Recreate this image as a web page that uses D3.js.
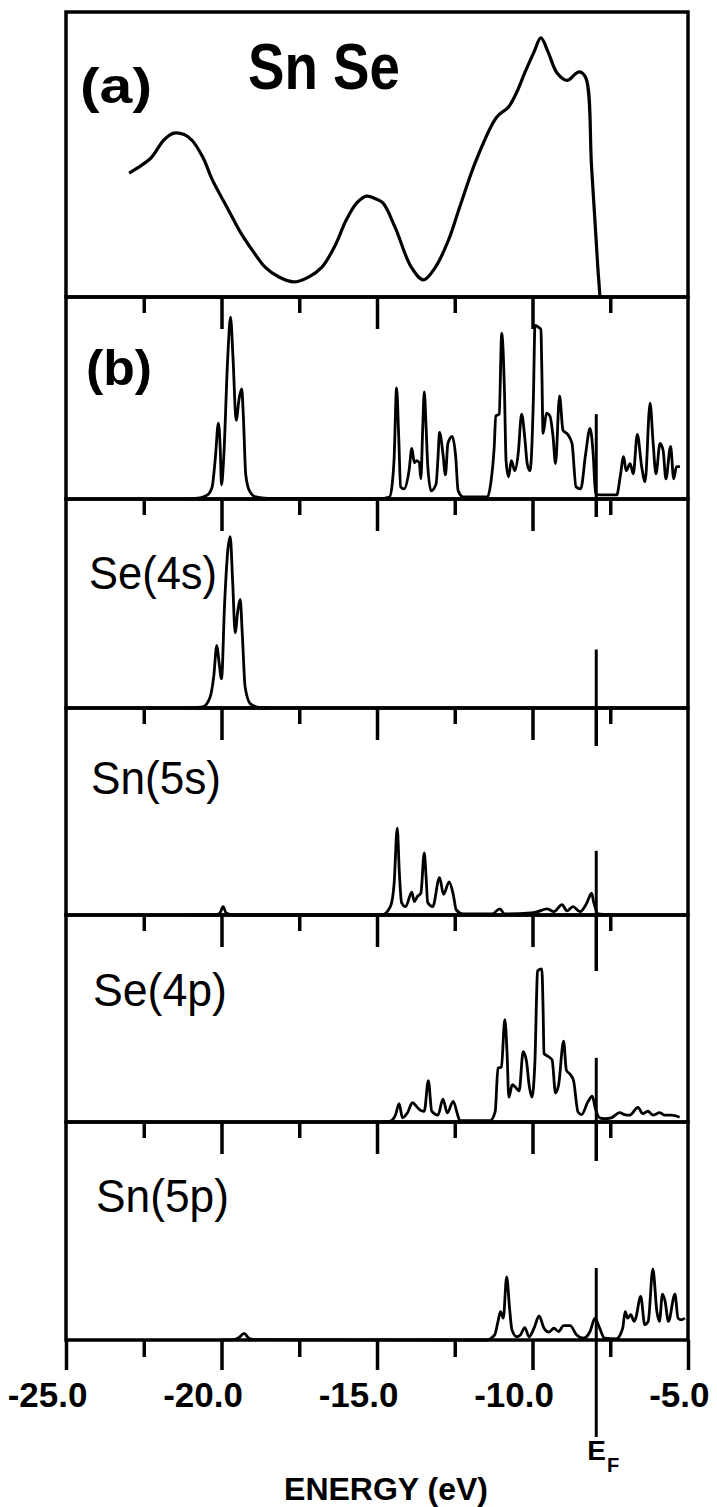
<!DOCTYPE html>
<html><head><meta charset="utf-8">
<script src="https://cdn.jsdelivr.net/npm/d3@7"></script>
<style>body{margin:0;background:#fff}svg{display:block}</style>
</head><body>
<script>
// ---------------- DATA ----------------
const panelNames = ["(a)", "(b)", "Se(4s)", "Sn(5s)", "Se(4p)", "Sn(5p)"];
const chartTitle = "Sn Se";
const xAxisTitle = "ENERGY (eV)";
const fermiLabel = "E", fermiSub = "F";
const fermiEnergy = -7.95;
const majorTicks = [-25, -20, -15, -10, -5];
const minorTicks = [-22.5, -17.5, -12.5, -7.5];
const innerMajorTicks = [-20, -15, -10];
const tickLabels = ["-25.0", "-20.0", "-15.0", "-10.0", "-5.0"];

// (a) measured spectrum: [energy eV, relative intensity]
const xpsSpectrum = [[-22.97,0.435],[-22.6,0.46],[-22.25,0.49],[-21.86,0.55],[-21.53,0.575],[-21.2,0.57],[-20.95,0.55],[-20.6,0.49],[-20.29,0.41],[-19.8,0.31],[-19.38,0.225],[-18.95,0.155],[-18.6,0.105],[-18.15,0.07],[-17.68,0.053],[-17.2,0.07],[-16.77,0.105],[-16.35,0.18],[-15.99,0.27],[-15.65,0.33],[-15.34,0.354],[-15.05,0.345],[-14.81,0.33],[-14.42,0.245],[-13.9,0.105],[-13.51,0.06],[-13.12,0.105],[-12.7,0.2],[-12.34,0.316],[-11.81,0.48],[-11.16,0.63],[-10.77,0.667],[-10.5,0.72],[-10.25,0.786],[-9.95,0.86],[-9.73,0.909],[-9.5,0.86],[-9.21,0.786],[-8.88,0.76],[-8.65,0.78],[-8.49,0.79],[-8.29,0.77],[-8.1,0.456],[-7.9,0.105],[-7.83,0]];

// (b) total DOS
const dosTotal = [[-21.0,0],[-20.7,0.005],[-20.45,0.02],[-20.3,0.06],[-20.2,0.2],[-20.1,0.375],[-20.04,0.25],[-20.0,0.07],[-19.93,0.2],[-19.8,0.7],[-19.71,0.9],[-19.63,0.7],[-19.53,0.39],[-19.43,0.5],[-19.35,0.545],[-19.3,0.42],[-19.22,0.12],[-19.1,0.04],[-18.9,0.01],[-18.5,0.003],[-15.0,0],[-14.6,0.01],[-14.51,0.075],[-14.45,0.2],[-14.37,0.55],[-14.3,0.3],[-14.24,0.06],[-14.13,0.05],[-13.97,0.14],[-13.88,0.25],[-13.8,0.18],[-13.73,0.19],[-13.64,0.18],[-13.59,0.1],[-13.53,0.35],[-13.48,0.53],[-13.42,0.35],[-13.37,0.17],[-13.26,0.04],[-13.1,0.075],[-13.04,0.2],[-12.99,0.33],[-12.88,0.225],[-12.8,0.12],[-12.72,0.275],[-12.58,0.31],[-12.47,0.21],[-12.39,0.04],[-12.22,0.01],[-11.45,0.01],[-11.34,0.08],[-11.23,0.26],[-11.18,0.41],[-11.07,0.42],[-10.99,0.82],[-10.9,0.525],[-10.85,0.19],[-10.77,0.11],[-10.68,0.19],[-10.57,0.14],[-10.46,0.225],[-10.35,0.42],[-10.24,0.29],[-10.17,0.175],[-10.08,0.14],[-9.97,0.51],[-9.92,0.86],[-9.8,0.85],[-9.73,0.84],[-9.7,0.64],[-9.66,0.325],[-9.55,0.425],[-9.44,0.41],[-9.34,0.31],[-9.26,0.175],[-9.13,0.51],[-9.02,0.34],[-8.87,0.32],[-8.73,0.275],[-8.6,0.06],[-8.45,0.05],[-8.29,0.225],[-8.15,0.35],[-8.05,0.225],[-7.97,0.025],[-7.82,0.02],[-7.29,0.02],[-7.18,0.11],[-7.07,0.21],[-6.99,0.14],[-6.86,0.175],[-6.76,0.125],[-6.63,0.32],[-6.49,0.16],[-6.38,0.085],[-6.22,0.475],[-6.12,0.275],[-6.03,0.125],[-5.9,0.275],[-5.8,0.24],[-5.71,0.1],[-5.56,0.26],[-5.46,0.1],[-5.37,0.16],[-5.26,0.16]];

// partial DOS
const dosSe4s = [[-21.0,0],[-20.6,0.005],[-20.37,0.05],[-20.25,0.15],[-20.15,0.3],[-20.08,0.22],[-20.0,0.14],[-19.9,0.5],[-19.8,0.75],[-19.72,0.82],[-19.64,0.6],[-19.56,0.36],[-19.48,0.46],[-19.4,0.52],[-19.33,0.35],[-19.24,0.1],[-19.07,0.02],[-18.8,0.003],[-18.5,0]];

const dosSn5s = [[-21.0,0],[-20.2,0],[-20.05,0.01],[-19.95,0.04],[-19.85,0.01],[-19.6,0],[-14.84,0],[-14.57,0.04],[-14.45,0.15],[-14.35,0.42],[-14.28,0.2],[-14.21,0.06],[-14.08,0.04],[-13.88,0.11],[-13.8,0.065],[-13.7,0.09],[-13.59,0.105],[-13.48,0.3],[-13.42,0.18],[-13.37,0.06],[-13.21,0.04],[-12.99,0.18],[-12.86,0.1],[-12.68,0.16],[-12.55,0.1],[-12.45,0.024],[-12.23,0.005],[-11.3,0.005],[-11.05,0.03],[-10.9,0.005],[-10.05,0.01],[-9.84,0.016],[-9.53,0.03],[-9.31,0.016],[-9.05,0.05],[-8.89,0.02],[-8.7,0.04],[-8.47,0.016],[-8.26,0.056],[-8.1,0.105],[-8.03,0.06],[-7.89,0.005],[-7.5,0]];

const dosSe4p = [[-14.8,0],[-14.57,0.004],[-14.4,0.036],[-14.29,0.089],[-14.18,0.02],[-14.02,0.045],[-13.86,0.093],[-13.7,0.07],[-13.59,0.056],[-13.48,0.052],[-13.35,0.2],[-13.24,0.052],[-13.04,0.033],[-12.88,0.11],[-12.74,0.044],[-12.55,0.1],[-12.41,0.036],[-12.34,0.007],[-11.36,0.007],[-11.2,0.05],[-11.11,0.26],[-11.0,0.265],[-10.89,0.495],[-10.82,0.34],[-10.76,0.12],[-10.65,0.18],[-10.54,0.167],[-10.43,0.15],[-10.3,0.34],[-10.19,0.29],[-10.11,0.18],[-10.02,0.12],[-9.92,0.3],[-9.87,0.6],[-9.84,0.73],[-9.7,0.74],[-9.66,0.55],[-9.63,0.33],[-9.53,0.32],[-9.37,0.3],[-9.26,0.14],[-9.16,0.18],[-9.0,0.39],[-8.91,0.25],[-8.79,0.23],[-8.68,0.2],[-8.54,0.05],[-8.42,0.036],[-8.21,0.1],[-8.08,0.125],[-7.98,0.066],[-7.84,0.02],[-7.68,0.016],[-7.47,0.02],[-7.2,0.045],[-7.04,0.036],[-6.88,0.033],[-6.61,0.07],[-6.45,0.04],[-6.29,0.052],[-6.13,0.033],[-5.91,0.045],[-5.75,0.033],[-5.54,0.033],[-5.27,0.023]];

const dosSn5p = [[-20.0,0],[-19.6,0.002],[-19.45,0.01],[-19.27,0.03],[-19.12,0.008],[-18.9,0.002],[-11.49,0],[-11.22,0.023],[-11.11,0.085],[-11.03,0.13],[-10.94,0.1],[-10.83,0.29],[-10.74,0.15],[-10.66,0.046],[-10.5,0.015],[-10.39,0.023],[-10.25,0.057],[-10.11,0.015],[-9.95,0.054],[-9.79,0.11],[-9.63,0.054],[-9.47,0.036],[-9.31,0.054],[-9.16,0.039],[-9.0,0.066],[-8.79,0.066],[-8.58,0.023],[-8.36,0.008],[-8.15,0.039],[-7.99,0.1],[-7.84,0.054],[-7.68,0.008],[-7.31,0.005],[-7.1,0.054],[-7.02,0.13],[-6.94,0.1],[-6.84,0.116],[-6.73,0.085],[-6.68,0.1],[-6.52,0.2],[-6.39,0.07],[-6.28,0.085],[-6.13,0.325],[-6.0,0.13],[-5.92,0.085],[-5.82,0.21],[-5.74,0.18],[-5.63,0.085],[-5.42,0.21],[-5.32,0.1],[-5.21,0.093],[-5.1,0.1]];

const panelSeries = [xpsSpectrum, dosTotal, dosSe4s, dosSn5s, dosSe4p, dosSn5p];
// height (fraction of panel) of the Fermi-level marker rising from each panel's base
const fermiMarkFraction = [0, 0.42, 0.28, 0.31, 0.31, 0.33];

// ---------------- LAYOUT ----------------
const W = 717, H = 1507;
const panelEdges = [12, 297, 499, 708, 915, 1122, 1340];
const fermiTopTickLen = [0, 0, 18, 38, 56, 39];
const font = "'Liberation Sans', Arial, Helvetica, sans-serif";

const svg = d3.select("body").append("svg").attr("width", W).attr("height", H);
const x = d3.scaleLinear().domain([-25, -5]).range([66, 688]);

const line = (y, curve) => d3.line().x(d => x(d[0])).y(d => y(d[1])).curve(curve);

panelSeries.forEach((series, i) => {
  const top = panelEdges[i], bot = panelEdges[i + 1];
  const y = d3.scaleLinear().domain([0, 1]).range([bot, top]);
  const g = svg.append("g");

  if (i > 0) {
    g.append("g").attr("transform", `translate(0,${top})`)
      .call(d3.axisBottom(x).tickValues(innerMajorTicks).tickSize(32).tickSizeOuter(0).tickFormat(""))
      .call(a => a.select(".domain").remove())
      .selectAll("line").attr("stroke", "#000").attr("stroke-width", 3.5);
    g.append("g").attr("transform", `translate(0,${top})`)
      .call(d3.axisBottom(x).tickValues(minorTicks).tickSize(16).tickSizeOuter(0).tickFormat(""))
      .call(a => a.select(".domain").remove())
      .selectAll("line").attr("stroke", "#000").attr("stroke-width", 3.5);
    if (fermiTopTickLen[i] > 0) {
      g.append("line").attr("x1", x(fermiEnergy)).attr("x2", x(fermiEnergy))
        .attr("y1", top).attr("y2", top + fermiTopTickLen[i])
        .attr("stroke", "#000").attr("stroke-width", 3.5);
    }
    g.append("line").attr("x1", x(fermiEnergy)).attr("x2", x(fermiEnergy))
      .attr("y1", bot).attr("y2", y(fermiMarkFraction[i]))
      .attr("stroke", "#000").attr("stroke-width", 3);
  }

  g.append("path").datum(series)
    .attr("d", line(y, i === 0 ? d3.curveCatmullRom.alpha(0.5) : d3.curveMonotoneX))
    .attr("fill", "none").attr("stroke", "#000")
    .attr("stroke-width", i === 0 ? 3.2 : 2.8).attr("stroke-linejoin", "round");

  g.append("rect").attr("x", x(-25)).attr("y", top)
    .attr("width", x(-5) - x(-25)).attr("height", bot - top)
    .attr("fill", "none").attr("stroke", "#000").attr("stroke-width", 3.5);
});

// panel labels
const labelSpec = [
  {x: 80, y: 103, size: 50, w: 72, bold: true},
  {x: 86, y: 385, size: 50, w: 66, bold: true},
  {x: 89, y: 589, size: 46, w: 128, bold: false},
  {x: 91, y: 794, size: 46, w: 130, bold: false},
  {x: 93, y: 1006, size: 46, w: 134, bold: false},
  {x: 96, y: 1212, size: 46, w: 133, bold: false}
];
panelNames.forEach((name, i) => {
  const s = labelSpec[i];
  svg.append("text").attr("x", s.x).attr("y", s.y).text(name)
    .attr("font-family", font).attr("font-size", s.size)
    .attr("font-weight", s.bold ? "bold" : "normal")
    .attr("textLength", s.w).attr("lengthAdjust", "spacingAndGlyphs");
});
svg.append("text").attr("x", 248).attr("y", 89).text(chartTitle)
  .attr("font-family", font).attr("font-size", 64).attr("font-weight", "bold")
  .attr("textLength", 152).attr("lengthAdjust", "spacingAndGlyphs");

// bottom axis
const axisY = panelEdges[panelEdges.length - 1];
const ax = svg.append("g").attr("transform", `translate(0,${axisY})`);
ax.call(d3.axisBottom(x).tickValues(majorTicks).tickSize(30).tickSizeOuter(0)
    .tickPadding(8).tickFormat((d, k) => tickLabels[k]))
  .call(a => a.select(".domain").remove());
ax.selectAll("line").attr("stroke", "#000").attr("stroke-width", 3.5);
ax.selectAll("text").attr("font-family", font).attr("font-size", 35).attr("font-weight", "bold")
  .attr("fill", "#000").attr("text-anchor", "end").attr("dx", 21).attr("dy", 0).attr("y", 67);
svg.append("g").attr("transform", `translate(0,${axisY})`)
  .call(d3.axisBottom(x).tickValues(minorTicks).tickSize(17).tickSizeOuter(0).tickFormat(""))
  .call(a => a.select(".domain").remove())
  .selectAll("line").attr("stroke", "#000").attr("stroke-width", 3.5);

// Fermi level below the axis
svg.append("line").attr("x1", x(fermiEnergy)).attr("x2", x(fermiEnergy))
  .attr("y1", axisY).attr("y2", axisY + 97).attr("stroke", "#000").attr("stroke-width", 3);
const ef = svg.append("text").attr("x", x(fermiEnergy) - 9).attr("y", 1460)
  .attr("font-family", font).attr("font-weight", "bold").attr("font-size", 28);
ef.append("tspan").text(fermiLabel);
ef.append("tspan").text(fermiSub).attr("font-size", 20).attr("dy", 12).attr("dx", 1);

svg.append("text").attr("x", 386).attr("y", 1500).attr("text-anchor", "middle")
  .attr("font-family", font).attr("font-weight", "bold").attr("font-size", 32)
  .text(xAxisTitle);
</script>
</body></html>
